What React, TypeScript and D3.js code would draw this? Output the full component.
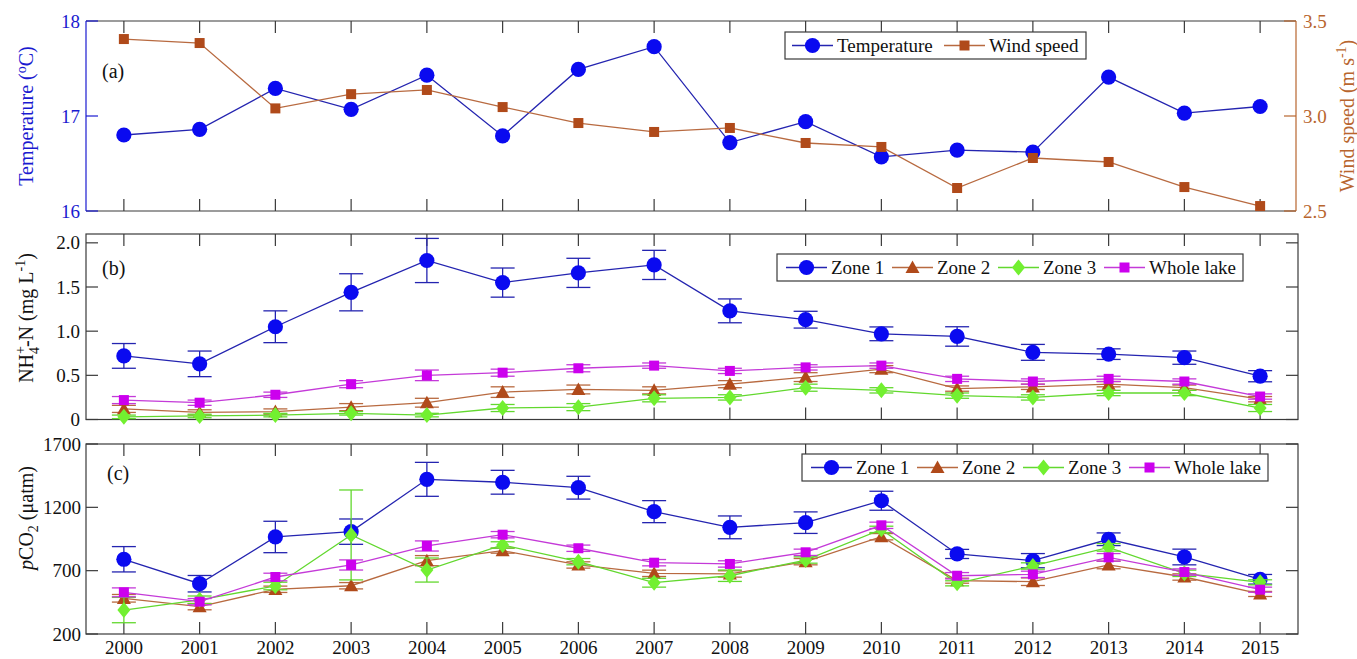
import React from "react";
import * as d3 from "d3";

const years = [2000, 2001, 2002, 2003, 2004, 2005, 2006, 2007, 2008, 2009, 2010, 2011, 2012, 2013, 2014, 2015];

const temperature = [16.8, 16.86, 17.29, 17.07, 17.43, 16.79, 17.49, 17.73, 16.72, 16.94, 16.57, 16.64, 16.62, 17.41, 17.03, 17.1];
const windSpeed = [3.405, 3.384, 3.04, 3.115, 3.137, 3.047, 2.963, 2.916, 2.937, 2.858, 2.837, 2.621, 2.779, 2.758, 2.626, 2.526];

const nh4Zone1 = [0.72, 0.63, 1.05, 1.44, 1.8, 1.55, 1.66, 1.75, 1.23, 1.13, 0.97, 0.94, 0.76, 0.74, 0.7, 0.49];
const nh4Zone1Err = [0.14, 0.145, 0.18, 0.21, 0.25, 0.165, 0.165, 0.165, 0.135, 0.095, 0.078, 0.11, 0.09, 0.06, 0.075, 0.063];
const nh4Zone2 = [0.12, 0.08, 0.09, 0.14, 0.19, 0.31, 0.34, 0.33, 0.4, 0.48, 0.57, 0.35, 0.37, 0.4, 0.36, 0.23];
const nh4Zone2Err = [0.04, 0.03, 0.03, 0.04, 0.05, 0.06, 0.05, 0.04, 0.04, 0.05, 0.04, 0.03, 0.03, 0.03, 0.03, 0.03];
const nh4Zone3 = [0.03, 0.04, 0.05, 0.07, 0.05, 0.13, 0.14, 0.24, 0.25, 0.36, 0.33, 0.27, 0.25, 0.3, 0.3, 0.13];
const nh4Zone3Err = [0.02, 0.02, 0.02, 0.02, 0.02, 0.04, 0.04, 0.04, 0.03, 0.04, 0.03, 0.03, 0.03, 0.03, 0.03, 0.04];
const nh4Whole = [0.22, 0.19, 0.28, 0.4, 0.5, 0.53, 0.58, 0.61, 0.55, 0.59, 0.61, 0.46, 0.43, 0.46, 0.43, 0.26];
const nh4WholeErr = [0.04, 0.03, 0.03, 0.04, 0.06, 0.04, 0.04, 0.03, 0.03, 0.03, 0.03, 0.03, 0.03, 0.03, 0.03, 0.03];

const pco2Zone1 = [790, 597, 966, 1008, 1421, 1398, 1355, 1166, 1042, 1079, 1252, 832, 779, 948, 808, 632];
const pco2Zone1Err = [100, 65, 124, 100, 134, 94, 90, 87, 90, 85, 75, 36, 56, 50, 62, 38];
const pco2Zone2 = [482, 416, 553, 581, 779, 858, 745, 679, 674, 771, 968, 621, 613, 745, 650, 516];
const pco2Zone2Err = [30, 25, 25, 25, 40, 20, 25, 25, 25, 25, 25, 20, 30, 30, 25, 20];
const pco2Zone3 = [389, 470, 579, 982, 705, 903, 771, 605, 660, 784, 1026, 600, 737, 884, 679, 608];
const pco2Zone3Err = [100, 30, 30, 355, 95, 25, 25, 35, 45, 25, 25, 20, 25, 30, 25, 20];
const pco2Whole = [529, 455, 650, 745, 895, 984, 877, 763, 753, 845, 1058, 660, 671, 805, 689, 550];
const pco2WholeErr = [35, 25, 30, 40, 40, 25, 25, 25, 25, 25, 25, 25, 25, 30, 25, 20];

const tempTicks = [16, 17, 18];
const windTicks = [2.5, 3.0, 3.5];
const nh4Ticks = [0, 0.5, 1.0, 1.5, 2.0];
const pco2Ticks = [200, 700, 1200, 1700];

const FONT =
  '"Liberation Serif", "Times New Roman", Times, "Nimbus Roman", "Nimbus Roman No9 L", FreeSerif, "Noto Serif", "DejaVu Serif", Tinos, Georgia, serif';
const AXIS = "#3a3a3a";
const BLUE_AX = "#1a1ad0";
const BROWN_AX = "#b8652e";

const C = {
  blue: { line: "#2424b0", fill: "#0a0af0" },
  brown: { line: "#b86a40", fill: "#b04a1a" },
  green: { line: "#62d82e", fill: "#72f030" },
  magenta: { line: "#c43ad8", fill: "#cc00ee" },
};

type Shape = "circle" | "square" | "triangle" | "diamond";

function Marker({ x, y, shape, fill, scale = 1 }: { x: number; y: number; shape: Shape; fill: string; scale?: number }) {
  if (shape === "circle") return <circle cx={x} cy={y} r={7.6 * scale} fill={fill} />;
  if (shape === "square") {
    const s = 5 * scale;
    return <rect x={x - s} y={y - s} width={2 * s} height={2 * s} fill={fill} />;
  }
  if (shape === "triangle") {
    const s = 7 * scale;
    return <path d={`M${x},${y - s}L${x + s},${y + s * 0.8}L${x - s},${y + s * 0.8}Z`} fill={fill} />;
  }
  const w = 6.5 * scale, h = 8 * scale;
  return <path d={`M${x},${y - h}L${x + w},${y}L${x},${y + h}L${x - w},${y}Z`} fill={fill} />;
}

const x = d3.scaleLinear().domain([1999.5, 2015.5]).range([86, 1298]);

const yTemp = d3.scaleLinear().domain([16, 18]).range([211, 21]);
const yWind = d3.scaleLinear().domain([2.5, 3.5]).range([211, 21]);
const yNh4 = d3.scaleLinear().domain([0, 2.1]).range([419.5, 234]);
const yPco2 = d3.scaleLinear().domain([200, 1700]).range([634, 444]);

type Series = { vals: number[]; err?: number[]; color: { line: string; fill: string }; shape: Shape };

function SeriesG({ s, y }: { s: Series; y: d3.ScaleLinear<number, number> }) {
  const line = d3.line<number>().x((_, i) => x(years[i])).y((v) => y(v));
  const cap = 12;
  return (
    <g>
      <path d={line(s.vals) || ""} fill="none" stroke={s.color.line} strokeWidth={1.3} />
      {s.err &&
        s.vals.map((v, i) => {
          const xx = x(years[i]);
          const top = y(v + s.err![i]);
          const bot = y(v - s.err![i]);
          return (
            <g key={"e" + i} stroke={s.color.line} strokeWidth={1.3}>
              <line x1={xx} x2={xx} y1={top} y2={bot} />
              <line x1={xx - cap} x2={xx + cap} y1={top} y2={top} />
              <line x1={xx - cap} x2={xx + cap} y1={bot} y2={bot} />
            </g>
          );
        })}
      {s.vals.map((v, i) => (
        <Marker key={"m" + i} x={x(years[i])} y={y(v)} shape={s.shape} fill={s.color.fill} />
      ))}
    </g>
  );
}

function XTicks({ y0, y1, x1 }: { y0: number; y1: number; x1: number }) {
  return (
    <g stroke={AXIS} strokeWidth={1.2}>
      {years.filter((yr) => x(yr) < x1).map((yr) => (
        <g key={yr}>
          <line x1={x(yr)} x2={x(yr)} y1={y0} y2={y0 + 12} />
          <line x1={x(yr)} x2={x(yr)} y1={y1} y2={y1 - 12} />
        </g>
      ))}
    </g>
  );
}

function Legend({ x0, y0, w, items }: { x0: number; y0: number; w: number; items: { label: string; color: { line: string; fill: string }; shape: Shape; lx: number }[] }) {
  const h = 27;
  return (
    <g>
      <rect x={x0} y={y0} width={w} height={h} fill="#fff" stroke={AXIS} strokeWidth={1.2} />
      {items.map((it) => {
        const cy = y0 + h / 2;
        return (
          <g key={it.label}>
            <line x1={x0 + it.lx} x2={x0 + it.lx + 41} y1={cy} y2={cy} stroke={it.color.line} strokeWidth={1.3} />
            <Marker x={x0 + it.lx + 20.5} y={cy} shape={it.shape} fill={it.color.fill} />
            <text x={x0 + it.lx + 45} y={cy + 6.5} fontSize={19} fill="#111">{it.label}</text>
          </g>
        );
      })}
    </g>
  );
}

export default function App() {
  const aL = 86, aR = 1296, bR = 1298;
  const aT = 21, aB = 211;
  const bT = 234, bB = 419.5;
  const cT = 444, cB = 634;

  const nh4Series: Series[] = [
    { vals: nh4Zone1, err: nh4Zone1Err, color: C.blue, shape: "circle" },
    { vals: nh4Zone2, err: nh4Zone2Err, color: C.brown, shape: "triangle" },
    { vals: nh4Zone3, err: nh4Zone3Err, color: C.green, shape: "diamond" },
    { vals: nh4Whole, err: nh4WholeErr, color: C.magenta, shape: "square" },
  ];
  const pco2Series: Series[] = [
    { vals: pco2Zone1, err: pco2Zone1Err, color: C.blue, shape: "circle" },
    { vals: pco2Zone2, err: pco2Zone2Err, color: C.brown, shape: "triangle" },
    { vals: pco2Zone3, err: pco2Zone3Err, color: C.green, shape: "diamond" },
    { vals: pco2Whole, err: pco2WholeErr, color: C.magenta, shape: "square" },
  ];
  const zoneItems = [
    { label: "Zone 1", color: C.blue, shape: "circle" as Shape, lx: 9 },
    { label: "Zone 2", color: C.brown, shape: "triangle" as Shape, lx: 115 },
    { label: "Zone 3", color: C.green, shape: "diamond" as Shape, lx: 221 },
    { label: "Whole lake", color: C.magenta, shape: "square" as Shape, lx: 327 },
  ];

  return (
    <svg width={1357} height={659} fontFamily={FONT} style={{ position: "absolute", left: 0, top: 0, background: "#fff", fontFamily: FONT }}>
      <rect x={0} y={0} width={1357} height={659} fill="#fff" />

      {/* Panel (a) */}
      <XTicks y0={aT} y1={aB} x1={aR} />
      <line x1={aL} x2={aR} y1={aT} y2={aT} stroke={AXIS} strokeWidth={1.2} />
      <line x1={aL} x2={aR} y1={aB} y2={aB} stroke={AXIS} strokeWidth={1.2} />
      <line x1={aL} x2={aL} y1={aT} y2={aB} stroke={BLUE_AX} strokeWidth={1.2} />
      <line x1={aR} x2={aR} y1={aT} y2={aB} stroke={BROWN_AX} strokeWidth={1.2} />
      {tempTicks.map((t) => (
        <g key={t}>
          <line x1={aL} x2={aL + 12} y1={yTemp(t)} y2={yTemp(t)} stroke={BLUE_AX} strokeWidth={1.2} />
          <text x={aL - 6} y={yTemp(t) + 6.5} textAnchor="end" fontSize={19} fill={BLUE_AX}>{t}</text>
        </g>
      ))}
      {windTicks.map((t) => (
        <g key={t}>
          <line x1={aR} x2={aR - 12} y1={yWind(t)} y2={yWind(t)} stroke={BROWN_AX} strokeWidth={1.2} />
          <text x={aR + 7} y={yWind(t) + 6.5} textAnchor="start" fontSize={19} fill={BROWN_AX}>{t.toFixed(1)}</text>
        </g>
      ))}
      <text transform={`translate(33,${(aT + aB) / 2}) rotate(-90)`} textAnchor="middle" fontSize={20} fill={BLUE_AX}>
        Temperature (<tspan dy={-7} fontSize={14}>o</tspan><tspan dy={7}>C)</tspan>
      </text>
      <text transform={`translate(1354,${(aT + aB) / 2}) rotate(-90)`} textAnchor="middle" fontSize={20} fill={BROWN_AX}>
        Wind speed (m s<tspan dy={-8} fontSize={14}>-1</tspan><tspan dy={8}>)</tspan>
      </text>
      <text x={102} y={78} fontSize={20} fill="#111">(a)</text>
      <SeriesG s={{ vals: temperature, color: C.blue, shape: "circle" }} y={yTemp} />
      <SeriesG s={{ vals: windSpeed, color: C.brown, shape: "square" }} y={yWind} />
      <Legend
        x0={785}
        y0={32}
        w={301}
        items={[
          { label: "Temperature", color: C.blue, shape: "circle", lx: 7 },
          { label: "Wind speed", color: C.brown, shape: "square", lx: 159 },
        ]}
      />

      {/* Panel (b) */}
      <XTicks y0={bT} y1={bB} x1={bR + 1} />
      <rect x={aL} y={bT} width={bR - aL} height={bB - bT} fill="none" stroke={AXIS} strokeWidth={1.2} />
      {nh4Ticks.map((t) => (
        <g key={t}>
          <line x1={aL} x2={aL + 12} y1={yNh4(t)} y2={yNh4(t)} stroke={AXIS} strokeWidth={1.2} />
          <line x1={bR} x2={bR - 12} y1={yNh4(t)} y2={yNh4(t)} stroke={AXIS} strokeWidth={1.2} />
          <text x={aL - 6} y={yNh4(t) + 6.5} textAnchor="end" fontSize={19} fill="#111">{t === 0 ? "0" : t.toFixed(1)}</text>
        </g>
      ))}
      <text transform={`translate(33,318) rotate(-90)`} textAnchor="middle" fontSize={20} fill="#111">
        NH<tspan dy={-8} fontSize={14}>+</tspan><tspan dx={-8} dy={14} fontSize={14}>4</tspan><tspan dy={-6}>-N (mg L</tspan><tspan dy={-8} fontSize={14}>-1</tspan><tspan dy={8}>)</tspan>
      </text>
      <text x={102} y={275} fontSize={20} fill="#111">(b)</text>
      {nh4Series.map((s, i) => (
        <SeriesG key={i} s={s} y={yNh4} />
      ))}
      <Legend x0={777} y0={254} w={466} items={zoneItems} />

      {/* Panel (c) */}
      <XTicks y0={cT} y1={cB} x1={bR + 1} />
      <rect x={aL} y={cT} width={bR - aL} height={cB - cT} fill="none" stroke={AXIS} strokeWidth={1.2} />
      {pco2Ticks.map((t) => (
        <g key={t}>
          <line x1={aL} x2={aL + 12} y1={yPco2(t)} y2={yPco2(t)} stroke={AXIS} strokeWidth={1.2} />
          <line x1={bR} x2={bR - 12} y1={yPco2(t)} y2={yPco2(t)} stroke={AXIS} strokeWidth={1.2} />
          <text x={aL - 5} y={yPco2(t) + 6.5} textAnchor="end" fontSize={19} fill="#111">{t}</text>
        </g>
      ))}
      {years.map((yr) => (
        <text key={yr} x={x(yr)} y={654} textAnchor="middle" fontSize={19} fill="#111">{yr}</text>
      ))}
      <text transform={`translate(33,518) rotate(-90)`} textAnchor="middle" fontSize={20} fill="#111">
        <tspan fontStyle="italic">p</tspan>CO<tspan dy={5} fontSize={14}>2</tspan><tspan dy={-5}> (μatm)</tspan>
      </text>
      <text x={107} y={480} fontSize={20} fill="#111">(c)</text>
      {pco2Series.map((s, i) => (
        <SeriesG key={i} s={s} y={yPco2} />
      ))}
      <Legend x0={802} y0={454} w={466} items={zoneItems} />
    </svg>
  );
}
